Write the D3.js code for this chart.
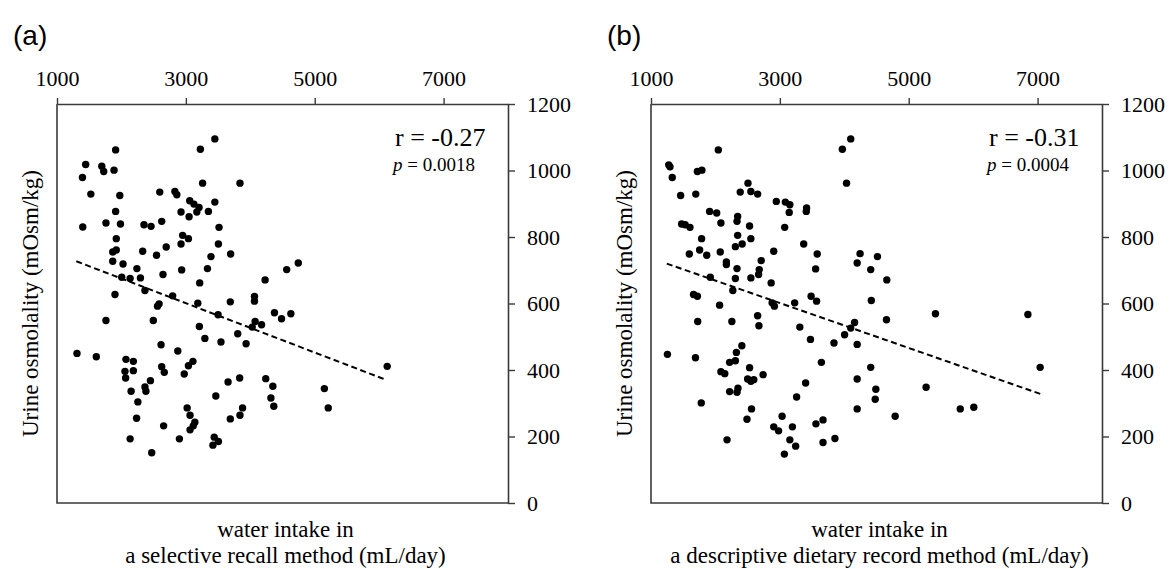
<!DOCTYPE html>
<html>
<head>
<meta charset="utf-8">
<script src="https://cdn.jsdelivr.net/npm/d3@7/dist/d3.min.js"></script>
<style>
    body { margin: 0; background: #fff; }
    svg { display: block; }
    .serif { font-family: 'Liberation Serif', 'Times New Roman', serif; fill: #000; }
</style>
</head>
<body>
<div id="chart"></div>
<script>
// x ticks (top axis) and y ticks (right axis)
var xTicks = [1000, 3000, 5000, 7000];
var yTicks = [0, 200, 400, 600, 800, 1000, 1200];

// (a) selective recall method: [water intake mL/day, urine osmolality mOsm/kg]
var pointsA = [
    [3450,1095],[3225,1064],[1910,1062],[1445,1018],[1695,1013],[1725,997],[1885,1001],[1395,979],
    [3260,962],[3840,962],[1525,929],[1975,925],[2595,935],[2830,937],[2860,927],[3060,909],
    [3125,899],[3205,889],[3450,905],[1910,877],[2925,875],[3170,875],[3350,877],[3050,861],
    [1400,830],[1760,842],[1985,839],[2350,837],[2460,832],[2625,847],[3515,829],[1920,795],
    [2950,805],[3040,795],[2925,779],[3505,779],[2695,770],[1920,761],[1865,755],[2330,757],
    [2545,745],[3695,749],[3390,741],[1865,727],[2025,719],[2240,705],[2935,701],[3335,705],
    [4745,722],[4565,702],[2645,687],[2005,679],[2135,675],[2295,677],[3215,662],[4230,671],
    [1900,627],[2365,639],[2795,623],[2585,599],[2560,592],[3185,601],[3690,605],[4065,621],
    [4065,607],[1760,549],[2495,549],[3500,566],[4375,572],[4485,554],[4630,569],[3210,531],
    [4075,546],[4030,529],[4175,536],[3295,495],[3545,484],[3805,509],[3935,479],[2615,476],
    [2875,457],[6125,411],[1310,450],[1610,440],[2070,432],[2185,426],[2625,410],[2665,393],
    [3040,413],[3110,426],[2975,388],[2055,396],[2185,398],[2065,376],[2450,368],[2365,349],
    [2380,336],[2150,336],[2255,304],[3655,364],[3835,376],[4240,374],[4350,351],[4320,316],
    [4365,291],[5150,344],[5210,286],[3465,322],[2235,255],[3020,286],[3065,264],[3140,243],
    [3115,232],[3065,220],[2655,232],[3690,253],[3840,264],[3880,286],[2135,193],[2900,193],
    [3440,198],[3505,185],[3420,174],[2470,151]
];

// (b) descriptive dietary record method
var pointsB = [
    [4100,1095],[3970,1064],[2045,1062],[1275,1017],[1295,1011],[1330,979],[1720,997],[1790,1001],
    [4035,962],[2505,962],[2385,935],[2550,937],[2655,929],[1460,925],[1695,929],[2945,907],
    [3085,905],[3155,897],[3145,874],[3415,887],[3410,877],[1910,877],[2020,872],[2345,862],
    [2335,847],[2085,842],[1475,839],[1530,837],[1605,829],[2530,833],[3075,829],[2345,805],
    [2550,795],[1785,795],[2415,779],[2310,771],[3370,779],[2905,757],[1755,761],[1595,749],
    [1865,745],[2075,755],[2170,725],[2170,717],[3580,749],[4245,750],[4515,741],[4200,722],
    [4410,702],[4660,671],[3555,704],[2710,729],[2680,702],[2670,687],[2335,705],[2310,675],
    [2550,677],[2865,662],[1920,679],[2270,639],[1660,627],[1720,622],[2065,595],[2880,602],
    [2915,592],[3230,602],[3485,622],[3570,607],[4420,609],[1725,546],[2255,546],[2655,563],
    [2675,533],[3310,529],[3475,492],[3840,481],[4005,506],[4100,526],[4160,543],[4200,477],
    [4655,551],[5415,569],[6850,567],[7040,408],[1255,447],[1690,437],[2410,473],[2325,453],
    [2310,428],[2220,423],[2085,395],[2145,389],[2530,407],[2500,373],[2550,366],[2595,371],
    [2740,386],[3645,423],[4410,408],[3400,361],[4200,373],[4490,342],[4480,312],[5270,348],
    [2220,335],[2335,333],[2350,345],[3260,319],[1780,301],[2560,283],[2490,252],[3035,261],
    [2905,229],[2980,217],[3195,229],[3155,190],[3245,171],[3070,147],[3560,238],[3670,250],
    [3670,182],[3855,194],[4200,283],[4790,261],[5800,283],[6010,288],[2180,190]
];

// regression line end points
var fitA = [[1300, 727], [6100, 371]];
var fitB = [[1245, 720], [7045, 328]];

// labels
var panelLabels = ['(a)', '(b)'];
var rTexts = ['r = -0.27', 'r = -0.31'];
var pValues = ['0.0018', '0.0004'];
var xTitles = [
    ['water intake in', 'a selective recall method (mL/day)'],
    ['water intake in', 'a descriptive dietary record method (mL/day)']
];
var yTitle = 'Urine osmolality (mOsm/kg)';

var W = 1172, H = 569;
var svg = d3.select('#chart').append('svg')
            .attr('width', W)
            .attr('height', H);

var plotTop = 104, plotBottom = 503;
var panels = [
    {left: 57, right: 508, points: pointsA, fit: fitA},
    {left: 651, right: 1102, points: pointsB, fit: fitB}
];

var axisColor = '#3a3a3a';

panels.forEach(function(p, i) {
    var g = svg.append('g');

    var xScale = d3.scaleLinear()
                    .domain([1000, 8000])
                    .range([p.left, p.right]);
    var yScale = d3.scaleLinear()
                    .domain([0, 1200])
                    .range([plotBottom, plotTop]);

    // left and bottom frame
    g.append('path')
        .attr('d', 'M' + p.left + ',' + plotTop + 'V' + plotBottom + 'H' + p.right)
        .attr('fill', 'none')
        .attr('stroke', axisColor)
        .attr('stroke-width', 1.6);

    // top axis
    var xAxis = d3.axisTop(xScale)
                    .tickValues(xTicks)
                    .tickSizeInner(6)
                    .tickSizeOuter(0)
                    .tickPadding(12)
                    .tickFormat(d3.format('d'));
    var xG = g.append('g')
                .attr('transform', 'translate(0,' + plotTop + ')')
                .call(xAxis);

    // right axis
    var yAxis = d3.axisRight(yScale)
                    .tickValues(yTicks)
                    .tickSizeInner(7)
                    .tickSizeOuter(0)
                    .tickPadding(12)
                    .tickFormat(d3.format('d'));
    var yG = g.append('g')
                .attr('transform', 'translate(' + p.right + ',0)')
                .call(yAxis);

    [xG, yG].forEach(function(a) {
        a.select('.domain').attr('stroke', axisColor).attr('stroke-width', 1.6);
        a.selectAll('.tick line').attr('stroke', axisColor).attr('stroke-width', 1.4);
        a.selectAll('.tick text')
            .attr('class', 'serif')
            .style('font-size', '22px')
            .attr('fill', '#000');
    });

    // regression line
    g.append('line')
        .attr('x1', xScale(p.fit[0][0]))
        .attr('y1', yScale(p.fit[0][1]))
        .attr('x2', xScale(p.fit[1][0]))
        .attr('y2', yScale(p.fit[1][1]))
        .attr('stroke', '#000')
        .attr('stroke-width', 2)
        .attr('stroke-dasharray', '6,3.5');

    // dots
    g.selectAll('circle')
        .data(p.points)
        .enter()
        .append('circle')
        .attr('cx', function(d) { return xScale(d[0]); })
        .attr('cy', function(d) { return yScale(d[1]); })
        .attr('r', 3.7)
        .attr('fill', '#000');

    // r and p
    g.append('text')
        .attr('class', 'serif')
        .attr('x', p.right - 113)
        .attr('y', 146)
        .style('font-size', '26px')
        .text(rTexts[i]);
    var pt = g.append('text')
        .attr('class', 'serif')
        .attr('x', p.right - 115)
        .attr('y', 171)
        .style('font-size', '19px');
    pt.append('tspan').style('font-style', 'italic').text('p');
    pt.append('tspan').text(' = ' + pValues[i]);

    // panel label
    g.append('text')
        .attr('x', p.left - 44)
        .attr('y', 45)
        .style('font-family', "'Liberation Sans', Arial, sans-serif")
        .style('font-size', '28px')
        .attr('fill', '#000')
        .text(panelLabels[i]);

    // y title
    g.append('text')
        .attr('class', 'serif')
        .attr('transform', 'translate(' + (p.left - 19) + ',' + ((plotTop + plotBottom) / 2) + ') rotate(-90)')
        .attr('text-anchor', 'middle')
        .style('font-size', '23px')
        .text(yTitle);

    // x title (two lines)
    var cx = (p.left + p.right) / 2 + 3;
    xTitles[i].forEach(function(t, j) {
        g.append('text')
            .attr('class', 'serif')
            .attr('x', cx)
            .attr('y', 537 + j * 26)
            .attr('text-anchor', 'middle')
            .style('font-size', '23px')
            .text(t);
    });
});
</script>
</body>
</html>
